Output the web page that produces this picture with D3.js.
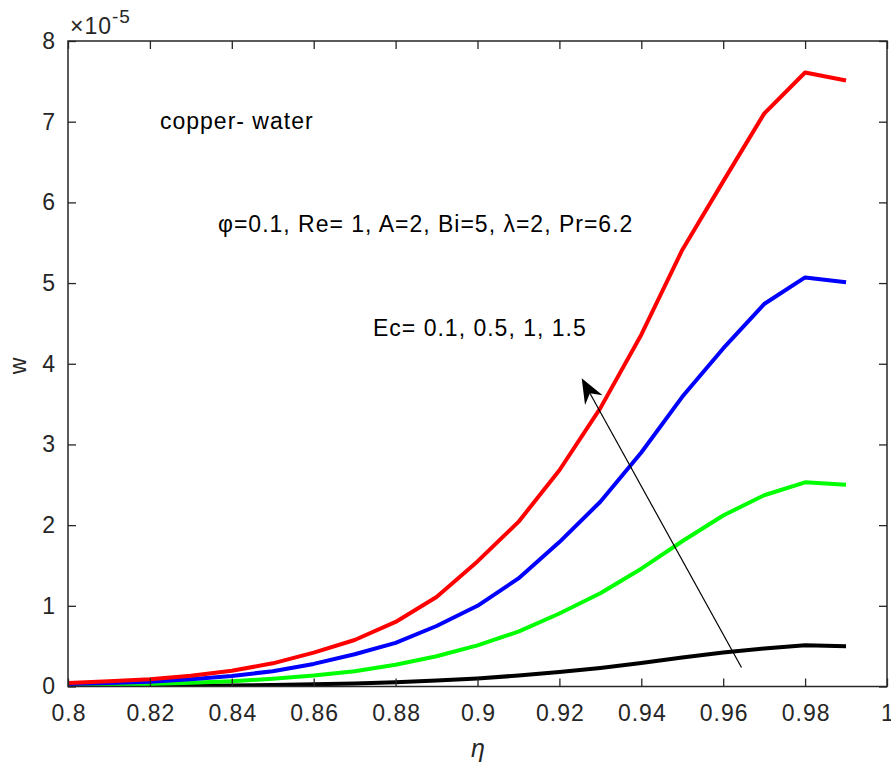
<!DOCTYPE html>
<html>
<head>
<meta charset="utf-8">
<script src="https://cdn.jsdelivr.net/npm/d3@7"></script>
<style>
  html, body { margin: 0; padding: 0; background: #fff; }
  svg { display: block; }
  text { font-family: "Liberation Sans", Arial, Helvetica, sans-serif; }
</style>
</head>
<body>
<svg id="chart" width="891" height="767"></svg>
<script>
// ---- data ----
const eta = [0.80,0.81,0.82,0.83,0.84,0.85,0.86,0.87,0.88,0.89,0.90,0.91,0.92,0.93,0.94,0.95,0.96,0.97,0.98,0.99];
const wEc1_5 = [0.043,0.064,0.089,0.134,0.196,0.287,0.42,0.576,0.80,1.11,1.55,2.04,2.68,3.45,4.36,5.41,6.26,7.10,7.61,7.51];
const wEc1   = [0.030,0.043,0.060,0.090,0.130,0.190,0.28,0.40,0.54,0.75,1.00,1.34,1.79,2.29,2.90,3.59,4.19,4.74,5.07,5.01];
const wEc0_5 = [0.014,0.021,0.030,0.045,0.065,0.095,0.135,0.19,0.27,0.375,0.51,0.68,0.905,1.155,1.46,1.80,2.12,2.37,2.53,2.50];
const wEc0_1 = [0.003,0.004,0.006,0.009,0.013,0.019,0.028,0.038,0.054,0.075,0.10,0.136,0.18,0.23,0.29,0.36,0.42,0.47,0.51,0.50];
const seriesNames = ["Ec=0.1","Ec=0.5","Ec=1","Ec=1.5"];
const seriesColors = ["#000000","#00ff00","#0000ff","#ff0000"];
const xTicks = [0.8,0.82,0.84,0.86,0.88,0.9,0.92,0.94,0.96,0.98,1];
const xTickLabels = ["0.8","0.82","0.84","0.86","0.88","0.9","0.92","0.94","0.96","0.98","1"];
const yTicks = [0,1,2,3,4,5,6,7,8];

const allSeries = [wEc0_1, wEc0_5, wEc1, wEc1_5];

// ---- layout ----
const svg = d3.select("#chart");
const L = 68, R = 887, T = 41, B = 686.5;
const x = d3.scaleLinear().domain([0.8, 1]).range([L, R]);
const y = d3.scaleLinear().domain([0, 8]).range([B, T]);
const axisColor = "#262626";
const tickLen = 8;
const fontSize = 23;
const ls = 1.0;

// lines (clipped to plot)
svg.append("clipPath").attr("id","clip").append("rect")
  .attr("x", L).attr("y", T).attr("width", R - L).attr("height", B - T);

const line = d3.line().x((d,i) => x(eta[i])).y(d => y(d));
svg.append("g").attr("clip-path","url(#clip)")
  .selectAll("path").data(allSeries).join("path")
  .attr("d", d => line(d))
  .attr("fill","none")
  .attr("stroke", (d,i) => seriesColors[i])
  .attr("stroke-width", 4)
  .attr("stroke-linejoin","round");

// axes: bottom / left with labels, top / right without
const gx = svg.append("g").attr("transform", `translate(0,${B})`)
  .call(d3.axisBottom(x).tickValues(xTicks).tickFormat((d,i) => xTickLabels[i]).tickSizeInner(-tickLen).tickSizeOuter(0).tickPadding(18));
const gy = svg.append("g").attr("transform", `translate(${L},0)`)
  .call(d3.axisLeft(y).tickValues(yTicks).tickFormat(d3.format("d")).tickSizeInner(-tickLen).tickSizeOuter(0).tickPadding(12));
const gxt = svg.append("g").attr("transform", `translate(0,${T})`)
  .call(d3.axisTop(x).tickValues(xTicks).tickFormat("").tickSizeInner(-tickLen).tickSizeOuter(0));
const gyr = svg.append("g").attr("transform", `translate(${R},0)`)
  .call(d3.axisRight(y).tickValues(yTicks).tickFormat("").tickSizeInner(-tickLen).tickSizeOuter(0));

[gx, gy, gxt, gyr].forEach(g => {
  g.select(".domain").remove();
  g.selectAll(".tick line").attr("stroke", axisColor).attr("stroke-width", 1.3);
  g.selectAll(".tick text").attr("fill", axisColor).attr("font-size", fontSize)
    .attr("letter-spacing", ls)
    .attr("font-family", '"Liberation Sans", Arial, sans-serif');
});
// compensate trailing letter-spacing for centered x labels
gx.selectAll(".tick text").attr("dx", ls / 2);

svg.append("rect").attr("x", L).attr("y", T).attr("width", R - L).attr("height", B - T)
  .attr("fill","none").attr("stroke", axisColor).attr("stroke-width", 1.5);

// exponent label
const ex = svg.append("text").attr("x", 70).attr("y", 34).attr("fill", axisColor)
  .attr("font-size", fontSize).attr("letter-spacing", ls);
ex.append("tspan").text("\u00d710");
ex.append("tspan").attr("dy", -11).attr("font-size", 19).text("-5");

// axis titles
svg.append("text").attr("transform", "translate(26,366) rotate(-90)")
  .attr("text-anchor","middle").attr("fill", axisColor).attr("font-size", 23).text("w");
svg.append("text").attr("x", 478).attr("y", 757).attr("text-anchor","middle")
  .attr("fill", axisColor).attr("font-size", 25).attr("font-style","italic")
  .attr("font-family", '"Liberation Serif", "Times New Roman", serif').text("\u03b7");

// annotations
const ann = (tx, ty, s) => svg.append("text").attr("x", tx).attr("y", ty)
  .attr("font-size", fontSize).attr("letter-spacing", ls).attr("fill","#000").text(s);
ann(160, 129, "copper- water");
ann(218, 232, "\u03c6=0.1, Re= 1, A=2, Bi=5, \u03bb=2, Pr=6.2");
ann(373, 336, "Ec= 0.1, 0.5, 1, 1.5");

// arrow
const tail = [741.5, 667.5], tip = [581.7, 378.3];
const dx = tip[0]-tail[0], dy = tip[1]-tail[1], len = Math.hypot(dx,dy);
const ux = dx/len, uy = dy/len, px = -uy, py = ux;
const hl = 25, hw = 10, notch = 17;
svg.append("line").attr("x1", tail[0]).attr("y1", tail[1])
  .attr("x2", tip[0]-ux*notch).attr("y2", tip[1]-uy*notch)
  .attr("stroke","#000").attr("stroke-width",1.2);
const head = [
  tip,
  [tip[0]-ux*hl+px*hw, tip[1]-uy*hl+py*hw],
  [tip[0]-ux*notch, tip[1]-uy*notch],
  [tip[0]-ux*hl-px*hw, tip[1]-uy*hl-py*hw]
];
svg.append("path").attr("d", d3.line()(head) + "Z").attr("fill","#000");
</script>
</body>
</html>
